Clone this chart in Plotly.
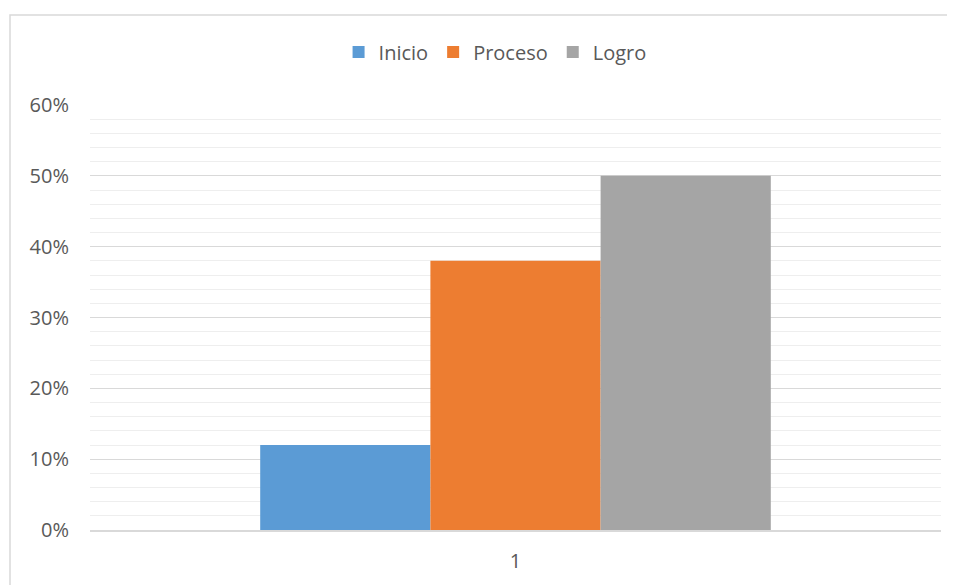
import plotly.graph_objects as go

categories = ["1"]
series_names = ["Inicio", "Proceso", "Logro"]
inicio = [0.12]
proceso = [0.38]
logro = [0.50]
colors = ["#5b9bd5", "#ed7d31", "#a5a5a5"]
y_ticks = [0, 0.1, 0.2, 0.3, 0.4, 0.5, 0.6]
y_tick_labels = ["0%", "10%", "20%", "30%", "40%", "50%", "60%"]

fig = go.Figure()
for name, vals, col in zip(series_names, [inicio, proceso, logro], colors):
    fig.add_trace(go.Bar(x=categories, y=vals, name=name, marker_color=col,
                         marker_line_width=0))

# page body has an 8px margin; figure is sized to fit the 955x585 window
W, H = 947, 577
L, R, T, B = 82, 14, 97, 55
pw, ph = W - L - R, H - T - B

font_family = "Open Sans, Noto Sans, sans-serif"
fig.update_layout(
    width=W, height=H,
    margin=dict(l=L, r=R, t=T, b=B),
    paper_bgcolor="white", plot_bgcolor="white",
    barmode="group", bargap=0.4, bargroupgap=0,
    font=dict(family=font_family, size=20, color="#595959"),
    legend=dict(orientation="h", x=0.476, xanchor="center", y=1.125, yanchor="middle",
                font=dict(size=20, color="#595959"), itemwidth=30, traceorder="normal"),
    xaxis=dict(type="category", showgrid=False, showline=True, linecolor="#d9d9d9",
               linewidth=1.5, ticks="", ticklabelstandoff=12,
               tickfont=dict(size=20, color="#595959")),
    yaxis=dict(range=[0, 0.6], tickvals=y_ticks, ticktext=y_tick_labels,
               showgrid=True, gridcolor="#d9d9d9", gridwidth=1, zeroline=False,
               showline=False, ticks="", ticklabelstandoff=20,
               tickfont=dict(size=20, color="#595959"),
               minor=dict(dtick=0.02, showgrid=True, gridcolor="#eeeeee", gridwidth=1)),
    shapes=[dict(type="rect", xref="paper", yref="paper",
                 x0=(2 - L) / pw, x1=1.2, y0=-0.3, y1=(H - B - 7) / ph,
                 line=dict(color="#d9d9d9", width=1.5), fillcolor="rgba(0,0,0,0)",
                 layer="below")],
)

fig.write_html("out.html")
